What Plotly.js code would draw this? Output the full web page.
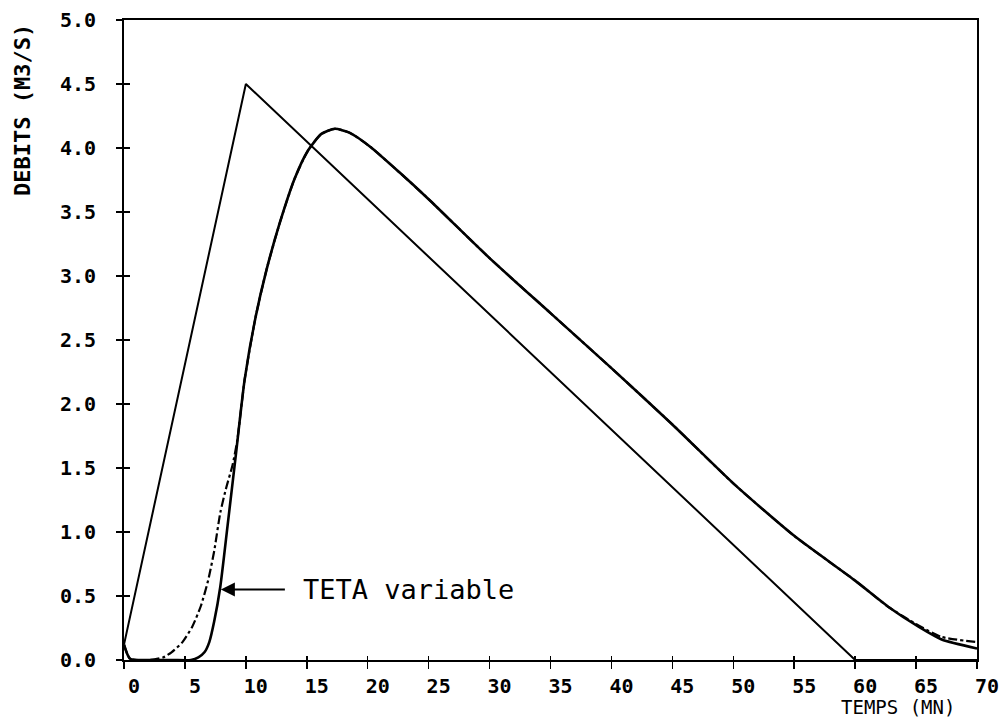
<!DOCTYPE html>
<html>
<head>
<meta charset="utf-8">
<script src="https://cdn.plot.ly/plotly-3.0.1.min.js"></script>
<style>html,body{margin:0;padding:0;background:#fff;}#chart{width:999px;height:723px;}</style>
</head>
<body>
<div id="chart"></div>
<script>
// Input hydrograph (triangle)
var inputX = [0, 10, 60, 70];
var inputY = [0.12, 4.5, 0, 0];

// Output hydrograph, TETA variable (solid)
var tetaVarX = [0, 0.5, 2, 4, 5.5, 6.1, 6.6, 7.0, 7.4, 7.9, 8.5, 9.2, 9.9, 10.8, 11.7, 12.8, 14.0, 15.1, 16.2, 17.3, 18.5, 20.2, 22.6, 25, 30, 35, 40, 45, 50, 55, 60, 62.8, 65.2, 67.1, 70];
var tetaVarY = [0.12, 0.01, 0, 0, 0, 0.02, 0.06, 0.14, 0.3, 0.57, 1.05, 1.62, 2.19, 2.68, 3.05, 3.42, 3.76, 3.98, 4.11, 4.15, 4.12, 4.01, 3.81, 3.6, 3.14, 2.71, 2.28, 1.84, 1.38, 0.97, 0.62, 0.41, 0.26, 0.16, 0.09];

// Output hydrograph, constant TETA (dash-dot)
var tetaConstX = [0, 0.5, 2, 2.5, 3.2, 3.9, 4.8, 5.6, 6.3, 6.9, 7.4, 7.9, 8.4, 8.9, 9.3, 9.9, 10.8, 11.7, 12.8, 14.0, 15.1, 16.2, 17.3, 18.5, 20.2, 22.6, 25, 30, 35, 40, 45, 50, 55, 60, 62.8, 65.2, 67.1, 70];
var tetaConstY = [0.12, 0.01, 0, 0.005, 0.02, 0.06, 0.14, 0.26, 0.42, 0.62, 0.85, 1.15, 1.35, 1.52, 1.72, 2.19, 2.68, 3.05, 3.42, 3.76, 3.98, 4.11, 4.15, 4.12, 4.01, 3.81, 3.6, 3.14, 2.71, 2.28, 1.84, 1.38, 0.97, 0.62, 0.41, 0.27, 0.18, 0.14];

var xTicks = [0, 5, 10, 15, 20, 25, 30, 35, 40, 45, 50, 55, 60, 65, 70];
var yTicks = [0, 0.5, 1, 1.5, 2, 2.5, 3, 3.5, 4, 4.5, 5];
var yTickText = ['0.0', '0.5', '1.0', '1.5', '2.0', '2.5', '3.0', '3.5', '4.0', '4.5', '5.0'];

var xTitle = 'TEMPS (MN)';
var yTitle = 'DEBITS (M3/S)';
var noteText = 'TETA variable';
var noteX = 7.95, noteY = 0.55;

var emptyX = [], emptyY = [];

var traces = [
  {x: inputX, y: inputY, mode: 'lines', line: {color: '#000', width: 2}, showlegend: false, hoverinfo: 'skip'},
  {x: tetaConstX, y: tetaConstY, mode: 'lines', line: {color: '#000', width: 2.2, dash: 'dashdot', shape: 'spline', smoothing: 0.6}, showlegend: false, hoverinfo: 'skip'},
  {x: tetaVarX, y: tetaVarY, mode: 'lines', line: {color: '#000', width: 2.6, shape: 'spline', smoothing: 0.6}, showlegend: false, hoverinfo: 'skip'},
  {x: emptyX, y: emptyY, xaxis: 'x2', yaxis: 'y2', mode: 'lines', showlegend: false, hoverinfo: 'skip'}
];

var tickFont = {family: 'DejaVu Sans Mono', size: 20, color: '#000', weight: 'bold'};

var layout = {
  width: 999, height: 723,
  margin: {l: 124, r: 22, t: 20, b: 63},
  paper_bgcolor: '#fff', plot_bgcolor: '#fff',
  showlegend: false,
  xaxis: {
    range: [0, 70], tickvals: xTicks, ticktext: xTicks.map(String),
    ticks: 'outside', ticklen: 7, tickwidth: 1.5, tickcolor: '#000',
    showline: true, linecolor: '#000', linewidth: 2, mirror: true,
    showgrid: false, zeroline: false,
    tickfont: tickFont, ticklabelshift: 10, ticklabelstandoff: 0, ticklabeloverflow: 'allow'
  },
  yaxis: {
    range: [0, 5], tickvals: yTicks, ticktext: yTickText,
    ticks: 'outside', ticklen: 6, tickwidth: 1.5, tickcolor: '#000',
    showline: true, linecolor: '#000', linewidth: 2, mirror: true,
    showgrid: false, zeroline: false,
    tickfont: tickFont, ticklabelstandoff: 16
  },
  xaxis2: {
    overlaying: 'x', anchor: 'y', side: 'bottom', range: [0, 70], tickvals: xTicks,
    ticks: 'inside', ticklen: 4, tickwidth: 1.5, tickcolor: '#000',
    showticklabels: false, showline: false, showgrid: false, zeroline: false
  },
  yaxis2: {
    overlaying: 'y', anchor: 'x', side: 'left', range: [0, 5], tickvals: yTicks,
    ticks: 'inside', ticklen: 6, tickwidth: 1.5, tickcolor: '#000',
    showticklabels: false, showline: false, showgrid: false, zeroline: false
  },
  annotations: [
    {
      x: noteX, y: noteY, xref: 'x', yref: 'y',
      text: noteText, showarrow: true, arrowhead: 2, arrowsize: 1.4, arrowwidth: 2, arrowcolor: '#000',
      axref: 'pixel', ayref: 'pixel', ax: 80, ay: 0, xanchor: 'left', yanchor: 'middle',
      startstandoff: 16,
      font: {family: 'DejaVu Sans Mono', size: 27, color: '#000'}
    },
    {
      xref: 'paper', yref: 'paper', x: (898 - 124) / 853, y: 0, yshift: -47,
      text: xTitle, showarrow: false, xanchor: 'center', yanchor: 'middle',
      font: {family: 'DejaVu Sans Mono', size: 19, color: '#000'}
    },
    {
      xref: 'paper', yref: 'paper', x: 0, y: 1, xshift: -102, yshift: -90,
      text: yTitle, textangle: -90, showarrow: false, xanchor: 'center', yanchor: 'middle',
      font: {family: 'DejaVu Sans Mono', size: 22, color: '#000', weight: 'bold'}
    }
  ]
};

Plotly.newPlot('chart', traces, layout, {displayModeBar: false, staticPlot: true});
</script>
</body>
</html>
